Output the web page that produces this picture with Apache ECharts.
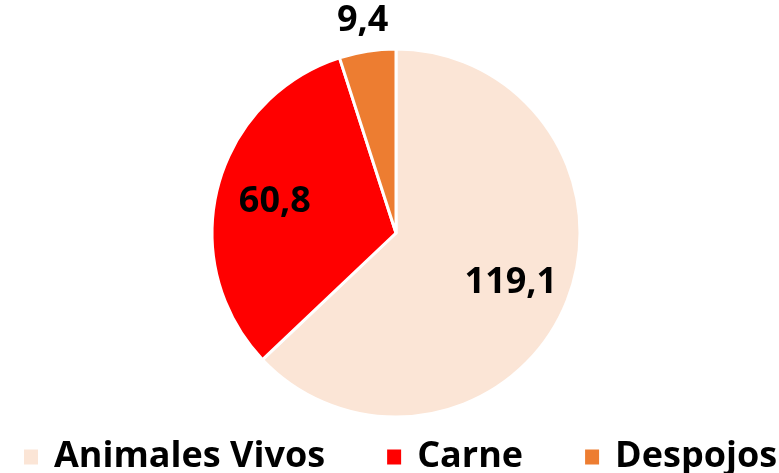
<!DOCTYPE html>
<html><head><meta charset="utf-8">
<script src="https://cdn.jsdelivr.net/npm/echarts@6/dist/echarts.min.js"></script>
<style>html,body{margin:0;padding:0;background:#fff}#c{width:779px;height:473px}</style>
</head><body><div id="c"></div>
<script>
const categories = ['Animales Vivos', 'Carne', 'Despojos'];
const values = [119.1, 60.8, 9.4];
const valueLabels = ['119,1', '60,8', '9,4'];
const colors = ['#FBE5D6', '#FF0000', '#ED7D31'];

const chart = echarts.init(document.getElementById('c'));
const font = '"Open Sans", "Noto Sans", sans-serif';
const labelStyle = { fontFamily: font, fontWeight: 'bold', fontSize: 36, color: '#000' };
const center = [396, 233];

const baseData = categories.map((n, i) => ({ name: n, value: values[i], itemStyle: { color: colors[i] } }));
const innerLabelData = categories.map((n, i) => ({
  name: n, value: values[i],
  itemStyle: { color: 'rgba(0,0,0,0)' },
  label: { show: i !== 2 }
}));
const outerLabelData = categories.map((n, i) => ({
  name: n, value: values[i],
  itemStyle: { color: 'rgba(0,0,0,0)' },
  label: { show: i === 2 }
}));
const common = {
  type: 'pie', center: center, startAngle: 90, clockwise: true,
  avoidLabelOverlap: false
};
chart.setOption({
  animation: false,
  legend: {
    bottom: -2, left: 22, width: 790, padding: 0,
    orient: 'horizontal',
    itemWidth: 16, itemHeight: 17, itemGap: 60,
    icon: 'rect',
    textStyle: Object.assign({ padding: [0, 0, 0, 10] }, labelStyle),
    data: categories
  },
  series: [
    Object.assign({}, common, {
      radius: 184,
      itemStyle: { borderColor: '#fff', borderWidth: 3 },
      label: { show: false }, labelLine: { show: false },
      data: baseData
    }),
    Object.assign({}, common, {
      radius: [60, 184], silent: true,
      itemStyle: { borderWidth: 0 },
      label: Object.assign({ position: 'inside', formatter: p => valueLabels[p.dataIndex] }, labelStyle),
      labelLine: { show: false },
      data: innerLabelData
    }),
    Object.assign({}, common, {
      radius: [192, 232], silent: true,
      itemStyle: { borderWidth: 0 },
      label: Object.assign({ position: 'inside', formatter: p => valueLabels[p.dataIndex] }, labelStyle),
      labelLine: { show: false },
      data: outerLabelData
    })
  ]
});
</script></body></html>
